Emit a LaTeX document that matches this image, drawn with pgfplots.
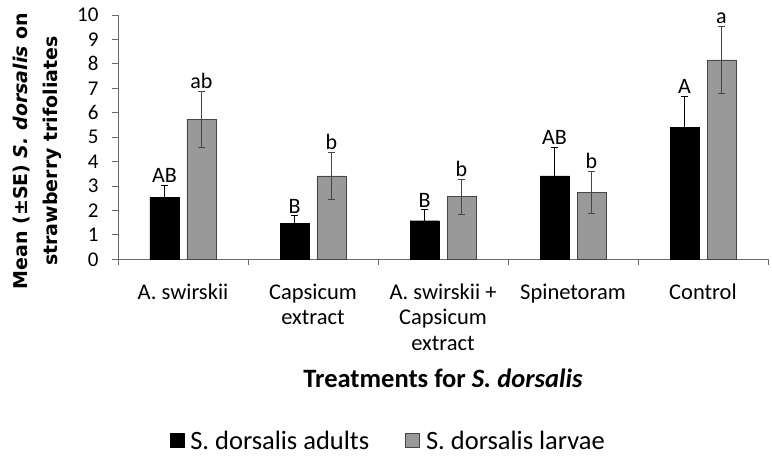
\documentclass[border=0pt]{standalone}
\usepackage{fontspec}
\setmainfont{Carlito}
\newfontfamily\labfont{DejaVu Sans}
\usepackage{pgfplots}
\pgfplotsset{compat=1.18}
\definecolor{larv}{RGB}{153,153,153}
\definecolor{axgray}{RGB}{105,105,105}
\definecolor{bedge}{RGB}{70,70,70}

% bars are drawn at category index -/+ 0.1423 (adults / larvae)
\pgfplotstableread{
x y e
-0.1423 2.54 0.49
0.8577 1.46 0.32
1.8577 1.58 0.45
2.8577 3.41 1.19
3.8577 5.39 1.27
}\adults
\pgfplotstableread{
x y e
0.1423 5.73 1.16
1.1423 3.41 0.97
2.1423 2.56 0.71
3.1423 2.74 0.86
4.1423 8.16 1.36
}\larvae
\pgfplotstableread{
x y l
-0.1423 3.03 AB
0.8577 1.78 B
1.8577 2.03 B
2.8577 4.60 AB
3.8577 6.66 A
}\adultlab
\pgfplotstableread{
x y l
0.1423 6.89 ab
1.1423 4.39 b
2.1423 3.27 b
3.1423 3.60 b
4.1423 9.52 a
}\larvlab

\begin{document}
\begin{tikzpicture}
\useasboundingbox (-118bp,-197.7bp) rectangle (654bp,259.3bp);
\begin{axis}[
  at={(0,0)}, anchor=south west,
  scale only axis, width=650bp, height=244.3bp,
  xmin=-0.5, xmax=4.5, ymin=0, ymax=10,
  axis x line*=bottom, axis y line*=left,
  axis line style={axgray, line width=0.8bp},
  tick align=outside,
  major tick length=6bp, minor tick length=6bp,
  tick style={axgray, line width=0.8bp},
  ytick={0,1,...,10},
  xtick={0,1,2,3,4},
  major x tick style={draw=none},
  minor xtick={-0.5,0.5,1.5,2.5,3.5,4.5},
  xticklabels={A. swirskii, Capsicum\\extract, A. swirskii +\\Capsicum\\extract, Spinetoram, Control},
  xticklabel style={align=center, anchor=north, font=\fontsize{22.5bp}{25.5bp}\selectfont, yshift=-15bp},
  yticklabel style={font=\fontsize{21bp}{24bp}\selectfont, anchor=east, xshift=-10bp},
  /pgf/number format/assume math mode=true,
  xlabel={\textbf{Treatments for \textit{S. dorsalis}}},
  xlabel style={at={(axis description cs:0.5,-0.5268)}, anchor=base, font=\fontsize{26.5bp}{30bp}\selectfont},
  ylabel={Mean (±SE) \textit{S. dorsalis} on\\strawberry trifoliates},
  ylabel style={at={(axis description cs:-0.1246,0.443)}, anchor=center, align=center, font=\labfont\bfseries\fontsize{19bp}{30bp}\selectfont},
  legend columns=2,
  legend style={draw=none, at={(axis description cs:0.416,-0.744)}, anchor=center,
    font=\fontsize{26.5bp}{30bp}\selectfont,
    /tikz/every odd column/.append style={column sep=4bp},
    /tikz/every even column/.append style={column sep=34bp}},
]
\addplot[ybar, bar width=29bp, bar shift=0pt, fill=black, draw=black,
  legend image code/.code={\fill[black] (0bp,-6bp) rectangle (14bp,8bp);},
  error bars/.cd, y dir=plus, y explicit,
  error bar style={black, line width=0.8bp},
  error mark options={rotate=90, mark size=3.5bp, line width=0.8bp, black}]
  table[x=x, y=y, y error=e] {\adults};
\addplot[ybar, bar width=29bp, bar shift=0pt, fill=larv, draw=bedge, line width=0.8bp,
  legend image code/.code={\filldraw[fill=larv, draw=bedge, line width=0.8bp] (0bp,-6bp) rectangle (14bp,8bp);},
  error bars/.cd, y dir=both, y explicit,
  error bar style={bedge, line width=0.8bp},
  error mark options={rotate=90, mark size=3.5bp, line width=0.8bp, bedge}]
  table[x=x, y=y, y error=e] {\larvae};
\addplot[draw=none, forget plot, nodes near coords, point meta=explicit symbolic,
  nodes near coords style={anchor=south, font=\fontsize{22bp}{24bp}\selectfont, inner sep=0pt, yshift=2.5bp}]
  table[x=x, y=y, meta=l] {\adultlab};
\addplot[draw=none, forget plot, nodes near coords, point meta=explicit symbolic,
  nodes near coords style={anchor=south, font=\fontsize{22bp}{24bp}\selectfont, inner sep=0pt, yshift=2.5bp}]
  table[x=x, y=y, meta=l] {\larvlab};
\legend{S. dorsalis adults, S. dorsalis larvae}
\end{axis}
\end{tikzpicture}
\end{document}
